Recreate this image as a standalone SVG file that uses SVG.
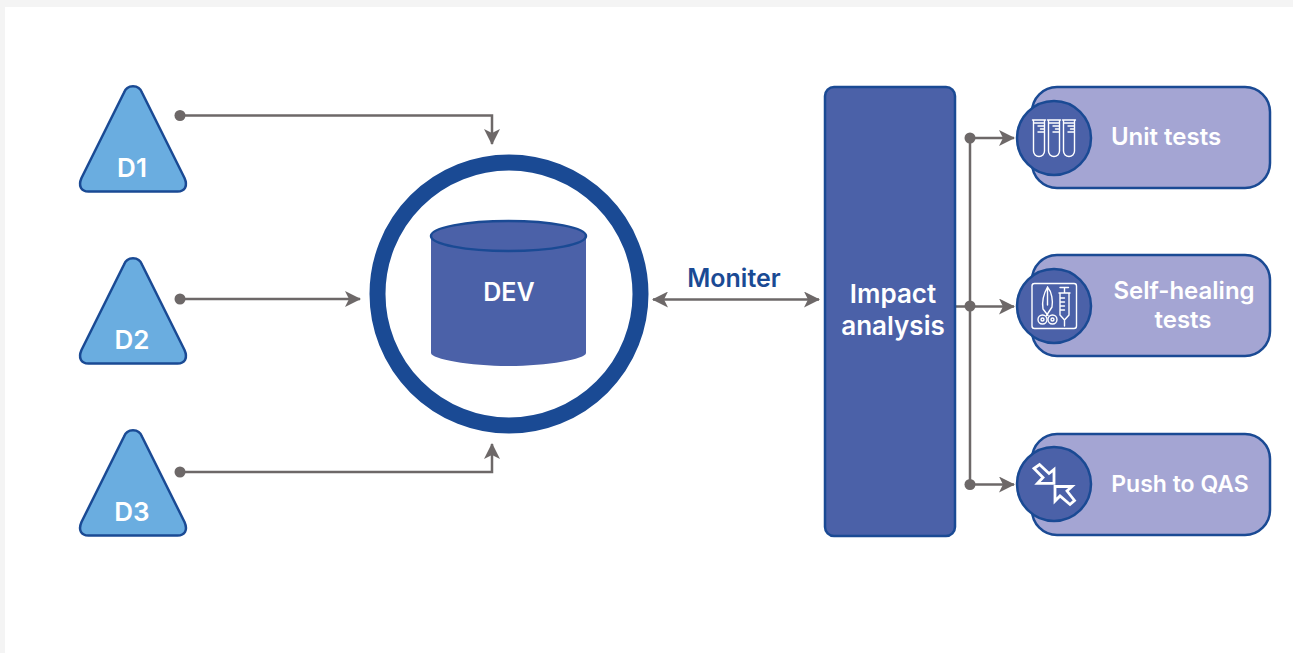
<svg xmlns="http://www.w3.org/2000/svg" width="1293" height="653" viewBox="0 0 1293 653">
<defs>
<style>
text{font-family:"Inter","Open Sans","Liberation Sans",sans-serif;font-weight:600;fill:#fff;text-anchor:middle}
.tri{fill:#6aade0;stroke:#1a4a94;stroke-width:2.5;stroke-linejoin:round}
.pill{fill:#a4a5d3;stroke:#1a4a94;stroke-width:2.5}
.disc{fill:#4b61a8;stroke:#1a4a94;stroke-width:2.5}
.conn{fill:none;stroke:#6d6868;stroke-width:2.5}
.dot{fill:#6d6868}
.ic{fill:none;stroke:#fff;stroke-width:1.4;stroke-linejoin:round;stroke-linecap:round}
.ic2{fill:none;stroke:#fff;stroke-width:2.8;stroke-linejoin:miter}
.lbl{font-size:24px}
.tl{font-size:26px}
</style>
<marker id="arr" viewBox="0 0 16 16" refX="15" refY="8" markerUnits="userSpaceOnUse" markerWidth="16" markerHeight="16" orient="auto-start-reverse"><path d="M0 0L16 8L0 16L4 8Z" fill="#6d6868"/></marker>
<path id="triShape" d="M123.800 93C127 84 139 84 142.200 93L184.500 178C188 186 185 191.500 177.500 191.500H88.500C81 191.500 78 186 81.500 178Z" class="tri"/>
<g id="tube"><path d="M-6.500 -19H6.500M-5.500 -19V12A5.500 5.500 0 0 0 5.500 12V-19M-5.500 -16H5.500M-1 -13H5.500M1.500 -10H5.500M-1 -7H5.500"/></g>
</defs>
<rect width="1293" height="653" fill="#f4f4f4"/>
<rect x="5" y="7" width="1288" height="646" fill="#fff"/>
<g id="connectors">
<path class="conn" marker-end="url(#arr)" d="M180 115.500H492V144"/>
<path class="conn" marker-end="url(#arr)" d="M180 299H360"/>
<path class="conn" marker-end="url(#arr)" d="M180 472H492V444"/>
<path class="conn" marker-start="url(#arr)" marker-end="url(#arr)" d="M653 299.500H819"/>
<path class="conn" marker-end="url(#arr)" d="M970 138H1014"/>
<path class="conn" d="M970 138V484"/>
<path class="conn" marker-end="url(#arr)" d="M956 306.500H1014"/>
<path class="conn" marker-end="url(#arr)" d="M970 484.500H1014"/>
<circle class="dot" cx="180" cy="115.500" r="5.500"/>
<circle class="dot" cx="180" cy="299" r="5.500"/>
<circle class="dot" cx="180" cy="472" r="5.500"/>
<circle class="dot" cx="970" cy="138" r="5.500"/>
<circle class="dot" cx="970" cy="306" r="5.500"/>
<circle class="dot" cx="970" cy="484.500" r="5.500"/>
</g>
<g id="d1"><use href="#triShape"/><text class="tl" x="132" y="177">D1</text></g>
<g id="d2"><use href="#triShape" y="172"/><text class="tl" x="132" y="349">D2</text></g>
<g id="d3"><use href="#triShape" y="344"/><text class="tl" x="132" y="521">D3</text></g>
<g id="dev">
<circle cx="509" cy="294" r="131.500" fill="#fff" stroke="#1a4a94" stroke-width="16"/>
<path d="M431 236V353C431 359 470 366 508.500 366S586 359 586 353V236Z" fill="#4b61a8"/>
<ellipse cx="508.500" cy="236" rx="77.500" ry="15" fill="#4b61a8" stroke="#1a4a94" stroke-width="2.500"/>
<text class="lbl" x="509" y="301" style="font-size:25px">DEV</text>
</g>
<text x="734" y="287" font-size="25" style="fill:#1a4a94">Moniter</text>
<g id="impact">
<rect x="825" y="87" width="130" height="449" rx="9" fill="#4b61a8" stroke="#1a4a94" stroke-width="2.500"/>
<text x="893" y="303" font-size="26">Impact</text>
<text x="893" y="335" font-size="26">analysis</text>
</g>
<g id="unit">
<rect class="pill" x="1032" y="87" width="238" height="101" rx="25"/>
<circle class="disc" cx="1054" cy="138" r="37"/>
<g class="ic"><use href="#tube" x="1039" y="139"/><use href="#tube" x="1054" y="139"/><use href="#tube" x="1069" y="139"/></g>
<text class="lbl" x="1166" y="145">Unit tests</text>
</g>
<g id="heal">
<rect class="pill" x="1032" y="255" width="238" height="101" rx="25"/>
<circle class="disc" cx="1054" cy="306" r="37"/>
<g class="ic">
<rect x="1032" y="283.500" width="44.500" height="45" rx="2.500"/>
<path d="M1047.500 287C1043 295 1042 303 1043 309L1048 315.500M1047.500 287C1052 292 1053 301 1052 307L1046.500 315.500M1047.500 287V305"/>
<circle cx="1042.500" cy="319.500" r="4.500"/><circle cx="1042.500" cy="319.500" r="1.500"/>
<circle cx="1052.500" cy="319.500" r="4.500"/><circle cx="1052.500" cy="319.500" r="1.500"/>
<path d="M1060 287.500H1068.500M1064.500 287.500V293M1059 293H1070M1060 293V315L1064.500 320L1069 315V293M1064.500 320V326M1060 298H1064.500M1060 302H1064.500M1060 306H1064.500M1060 310H1064.500"/>
</g>
<text class="lbl" x="1184" y="299">Self-healing</text>
<text class="lbl" x="1183" y="328">tests</text>
</g>
<g id="push">
<rect class="pill" x="1032" y="434" width="238" height="101" rx="25"/>
<circle class="disc" cx="1054" cy="484" r="37"/>
<g class="ic2">
<path d="M1034 468.500L1039.500 464.500L1049 473.500L1054 469.500V483.300H1037.500L1043 477.500Z"/>
<path d="M1055 486.500H1072L1067 491L1074.500 500.500L1070 504.500L1060 496L1055 501Z"/>
</g>
<text x="1180" y="492" font-size="23">Push to QAS</text>
</g>
</svg>
